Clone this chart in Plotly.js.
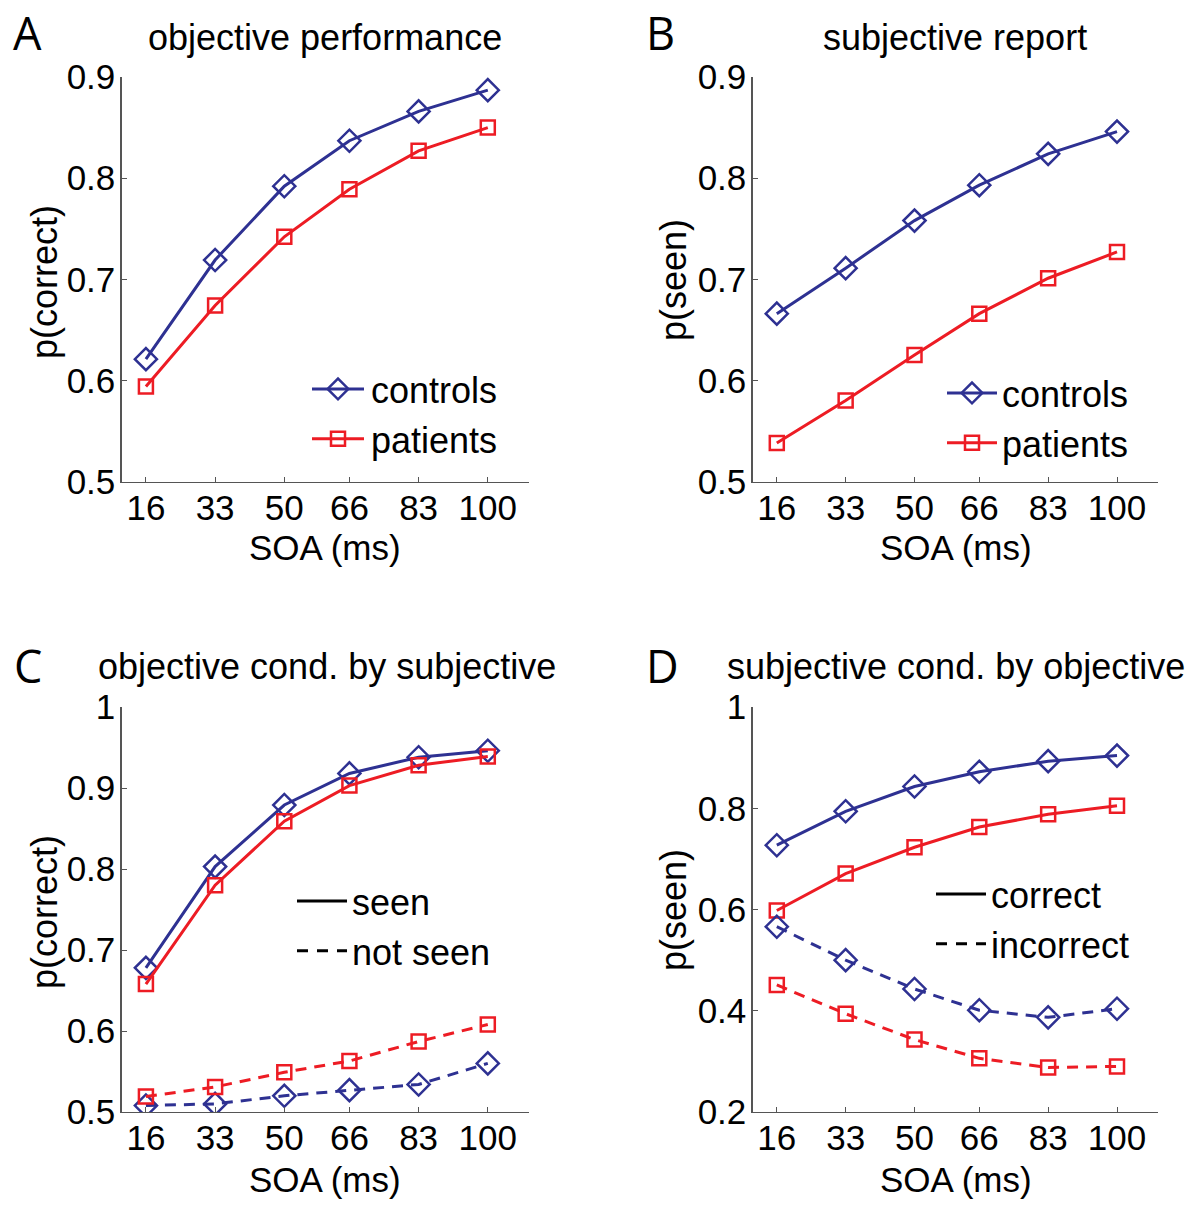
<!DOCTYPE html>
<html>
<head>
<meta charset="utf-8">
<script src="https://cdn.plot.ly/plotly-3.0.1.min.js"></script>
<style>
  html, body { margin: 0; padding: 0; background: #fff; }
  #chart { width: 1201px; height: 1205px; }
</style>
</head>
<body>
<div id="chart"></div>
<script>
// ---- data ----
const soa = [16, 33, 50, 66, 83, 100];
const soaLabels = ['16', '33', '50', '66', '83', '100'];

// Panel A: objective performance, p(correct)
const objControls = [0.621, 0.719, 0.792, 0.837, 0.866, 0.887];
const objPatients = [0.594, 0.674, 0.742, 0.789, 0.827, 0.850];

// Panel B: subjective report, p(seen)
const subjControls = [0.666, 0.711, 0.758, 0.793, 0.824, 0.846];
const subjPatients = [0.538, 0.580, 0.625, 0.666, 0.701, 0.727];

// Panel C: objective conditioned on subjective, p(correct)
const seenControls = [0.678, 0.803, 0.879, 0.918, 0.938, 0.946];
const seenPatients = [0.658, 0.780, 0.859, 0.903, 0.928, 0.939];
const notSeenControls = [0.508, 0.510, 0.520, 0.527, 0.534, 0.560];
const notSeenPatients = [0.519, 0.531, 0.549, 0.563, 0.587, 0.608];

// Panel D: subjective conditioned on objective, p(seen)
const correctControls = [0.727, 0.794, 0.843, 0.872, 0.893, 0.904];
const correctPatients = [0.598, 0.671, 0.723, 0.763, 0.788, 0.805];
const incorrectControls = [0.566, 0.500, 0.443, 0.401, 0.387, 0.404];
const incorrectPatients = [0.451, 0.394, 0.343, 0.306, 0.288, 0.290];

const yTicksTop = [0.5, 0.6, 0.7, 0.8, 0.9];
const yTickTextTop = ['0.5', '0.6', '0.7', '0.8', '0.9'];
const yTicksC = [0.5, 0.6, 0.7, 0.8, 0.9, 1];
const yTickTextC = ['0.5', '0.6', '0.7', '0.8', '0.9', '1'];
const yTicksD = [0.2, 0.4, 0.6, 0.8, 1];
const yTickTextD = ['0.2', '0.4', '0.6', '0.8', '1'];

// ---- styles ----
const BLUE = 'rgb(46,49,146)';
const RED = 'rgb(237,28,36)';
const FONT = 'Liberation Sans, Arial, sans-serif';
const W = 1201, H = 1205;

function diamondTrace(x, y, xa, ya, dash, name, legend, show) {
  return {
    x: x, y: y, xaxis: xa, yaxis: ya, type: 'scatter', mode: 'lines+markers',
    name: name, legend: legend, showlegend: show,
    line: { color: BLUE, width: 3, dash: dash },
    marker: { symbol: 'diamond-open', size: 17, color: BLUE, line: { color: BLUE, width: 2.5 } },
    hoverinfo: 'skip'
  };
}
function squareTrace(x, y, xa, ya, dash, name, legend, show) {
  return {
    x: x, y: y, xaxis: xa, yaxis: ya, type: 'scatter', mode: 'lines+markers',
    name: name, legend: legend, showlegend: show,
    line: { color: RED, width: 3, dash: dash },
    marker: { symbol: 'square-open', size: 14, color: RED, line: { color: RED, width: 2.5 } },
    hoverinfo: 'skip'
  };
}
function keyTrace(xa, ya, dash, name, legend) {
  return {
    x: [null], y: [null], xaxis: xa, yaxis: ya, type: 'scatter', mode: 'lines',
    name: name, legend: legend, showlegend: true,
    line: { color: '#000', width: 3, dash: dash }, hoverinfo: 'skip'
  };
}
const DASH = '11px,8px';
const KEYDASH = '11px,9px';

const traces = [
  diamondTrace(soa, objControls, 'x', 'y', 'solid', 'controls', 'legend', true),
  squareTrace(soa, objPatients, 'x', 'y', 'solid', 'patients', 'legend', true),

  diamondTrace(soa, subjControls, 'x2', 'y2', 'solid', 'controls', 'legend2', true),
  squareTrace(soa, subjPatients, 'x2', 'y2', 'solid', 'patients', 'legend2', true),

  diamondTrace(soa, seenControls, 'x3', 'y3', 'solid', 'controls seen', 'legend3', false),
  squareTrace(soa, seenPatients, 'x3', 'y3', 'solid', 'patients seen', 'legend3', false),
  diamondTrace(soa, notSeenControls, 'x3', 'y3', DASH, 'controls not seen', 'legend3', false),
  squareTrace(soa, notSeenPatients, 'x3', 'y3', DASH, 'patients not seen', 'legend3', false),
  keyTrace('x3', 'y3', 'solid', 'seen', 'legend3'),
  keyTrace('x3', 'y3', KEYDASH, 'not seen', 'legend3'),

  diamondTrace(soa, correctControls, 'x4', 'y4', 'solid', 'controls correct', 'legend4', false),
  squareTrace(soa, correctPatients, 'x4', 'y4', 'solid', 'patients correct', 'legend4', false),
  diamondTrace(soa, incorrectControls, 'x4', 'y4', DASH, 'controls incorrect', 'legend4', false),
  squareTrace(soa, incorrectPatients, 'x4', 'y4', DASH, 'patients incorrect', 'legend4', false),
  keyTrace('x4', 'y4', 'solid', 'correct', 'legend4'),
  keyTrace('x4', 'y4', KEYDASH, 'incorrect', 'legend4')
];

const tickFont = { family: FONT, size: 35, color: '#000' };
function xAxis(domain, anchor) {
  return {
    domain: domain, anchor: anchor, range: [10, 110],
    tickmode: 'array', tickvals: soa, ticktext: soaLabels,
    ticks: 'inside', ticklen: 5, tickwidth: 1, tickcolor: '#555',
    showline: true, linecolor: '#555', linewidth: 1.2, mirror: false,
    showgrid: false, zeroline: false, tickfont: tickFont, fixedrange: true,
    ticklabelstandoff: -5
  };
}
function yAxis(domain, anchor, range, vals, text) {
  return {
    domain: domain, anchor: anchor, range: range,
    tickmode: 'array', tickvals: vals, ticktext: text,
    ticks: 'inside', ticklen: 5, tickwidth: 1, tickcolor: '#555',
    showline: true, linecolor: '#555', linewidth: 1.2, mirror: false,
    showgrid: false, zeroline: false, tickfont: tickFont, fixedrange: true,
    ticklabelstandoff: -2
  };
}
const px = v => v / W;
const py = v => 1 - v / H;

const xDomLeft = [px(121.5), px(528.5)];
const xDomRight = [px(752.5), px(1157.5)];
const yDomTop = [py(481.5), py(77)];
const yDomBot = [py(1112), py(707)];

function ann(text, xPix, yPix, size, family, angle) {
  return {
    text: text, xref: 'paper', yref: 'paper', x: px(xPix), y: py(yPix),
    xanchor: 'center', yanchor: 'middle', showarrow: false,
    textangle: angle || 0, font: { family: family || FONT, size: size, color: '#000' }
  };
}
const LETTER = 'Open Sans, DejaVu Sans, sans-serif';

const annotations = [
  ann('A', 27, 32, 45, LETTER), ann('B', 660, 32, 45, LETTER),
  ann('C', 28, 665, 45, LETTER), ann('D', 662, 665, 45, LETTER),
  ann('objective performance', 325, 37, 36),
  ann('subjective report', 955, 37, 36),
  ann('objective cond. by subjective', 327, 666, 36),
  ann('subjective cond. by objective', 956, 666, 36),
  ann('SOA (ms)', 325, 548, 35), ann('SOA (ms)', 956, 548, 35),
  ann('SOA (ms)', 325, 1179, 35), ann('SOA (ms)', 956, 1179, 35),
  ann('p(correct)', 44, 282, 36, FONT, -90), ann('p(seen)', 673, 280, 36, FONT, -90),
  ann('p(correct)', 44, 912, 36, FONT, -90), ann('p(seen)', 673, 910, 36, FONT, -90)
];

function legendBox(xPix, yPix) {
  return {
    x: px(xPix), y: py(yPix), xanchor: 'left', yanchor: 'top',
    bgcolor: 'rgba(0,0,0,0)', borderwidth: 0,
    font: { family: FONT, size: 36, color: '#000' },
    itemsizing: 'trace', itemwidth: 50, tracegroupgap: 0,
    itemclick: false, itemdoubleclick: false
  };
}

const layout = {
  width: W, height: H,
  margin: { l: 0, r: 0, t: 0, b: 0 },
  paper_bgcolor: '#fff', plot_bgcolor: '#fff',
  showlegend: true,
  xaxis: xAxis(xDomLeft, 'y'),
  yaxis: yAxis(yDomTop, 'x', [0.5, 0.9], yTicksTop, yTickTextTop),
  xaxis2: xAxis(xDomRight, 'y2'),
  yaxis2: yAxis(yDomTop, 'x2', [0.5, 0.9], yTicksTop, yTickTextTop),
  xaxis3: xAxis(xDomLeft, 'y3'),
  yaxis3: yAxis(yDomBot, 'x3', [0.5, 1], yTicksC, yTickTextC),
  xaxis4: xAxis(xDomRight, 'y4'),
  yaxis4: yAxis(yDomBot, 'x4', [0.2, 1], yTicksD, yTickTextD),
  legend: legendBox(311, 359),
  legend2: legendBox(942, 363),
  legend3: legendBox(292, 871),
  legend4: legendBox(931, 864),
  annotations: annotations
};

// Lengthen the legend key lines (MATLAB-style ~52px key with centred marker)
function restyleLegendKeys() {
  document.querySelectorAll('g.traces').forEach(function (item) {
    const txt = item.querySelector('text.legendtext');
    if (!txt) return;
    const tx = parseFloat(txt.getAttribute('x')) || 60;
    item.querySelectorAll('g.legendlines path').forEach(function (p) {
      p.setAttribute('d', 'M' + (tx - 59) + ',0h52');
    });
    item.querySelectorAll('g.legendsymbols path.scatterpts').forEach(function (p) {
      p.setAttribute('transform', 'translate(' + (tx - 33) + ',0)');
    });
  });
}

Plotly.newPlot('chart', traces, layout, { staticPlot: true, displayModeBar: false })
  .then(restyleLegendKeys);
</script>
</body>
</html>
